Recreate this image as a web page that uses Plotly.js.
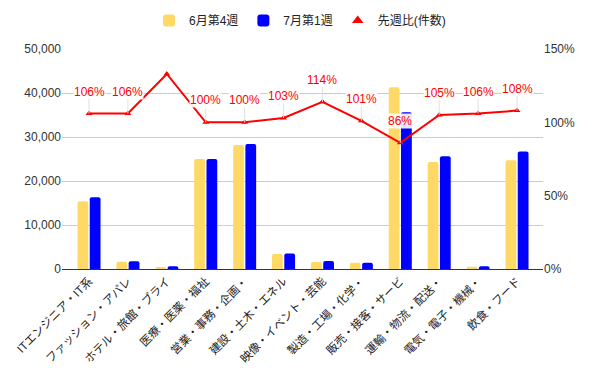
<!DOCTYPE html>
<html><head><meta charset="utf-8">
<script src="https://cdn.plot.ly/plotly-3.0.1.min.js"></script>
<style>html,body{margin:0;padding:0;background:#fff}#chart{width:600px;height:371px}</style>
</head><body><div id="chart"></div>
<script>
const categories = ["ITエンジニア・IT系","ファッション・アパレ","ホテル・旅館・ブライ","医療・医薬・福祉","営業・事務・企画・","建設・土木・エネル","映像・イベント・芸能","製造・工場・化学・","販売・接客・サービ","運輸・物流・配送・","電気・電子・機械・","飲食・フード"];
const juneW4 = [15400,1650,480,25000,28200,3400,1600,1400,41300,24300,520,24700];
const julyW1 = [16300,1750,640,25000,28400,3500,1820,1420,35600,25600,620,26700];
const ratioPct = [106,106,133,100,100,103,114,101,86,105,106,108];
const ratioLabels = ["106%","106%","","100%","100%","103%","114%","101%","86%","105%","106%","108%"];
const seriesNames = ["6月第4週","7月第1週","先週比(件数)"];
const leftTicks = [0,10000,20000,30000,40000,50000];
const rightTicks = [0,50,100,150];
const rightTickText = ["0%","50%","100%","150%"];

const font = "'Liberation Sans', Arial, 'Noto Sans CJK JP', sans-serif";
const traces = [
  {type:'bar', name:seriesNames[0], x:categories, y:juneW4, marker:{color:'#FFD966'}},
  {type:'bar', name:seriesNames[1], x:categories, y:julyW1, marker:{color:'#0000FF'}},
  {type:'scatter', mode:'lines+markers', name:seriesNames[2], x:categories, y:ratioPct, yaxis:'y2',
   line:{color:'#FF0000', width:2}, marker:{symbol:'triangle-up', size:6, color:'#FF0000'}, showlegend:false},
  {type:'scatter', mode:'markers', name:seriesNames[2], x:[null], y:[null], yaxis:'y2',
   marker:{symbol:'triangle-up', size:10, color:'#FF0000'}, showlegend:true}
];
const annotations = categories.map((c,i)=>ratioLabels[i]?({
  x:c, y:ratioPct[i], xref:'x', yref:'y2', text:ratioLabels[i], showarrow:true,
  arrowhead:0, arrowwidth:1, arrowcolor:'#e0e0e0', ax:0, ay:-22, standoff:0,
  bgcolor:'rgba(255,255,255,0.9)', borderpad:0,
  font:{family:font, size:12, color:'#FF0000'}
}):null).filter(a=>a);

const layout = {
  width:600, height:371,
  margin:{l:62, r:57, t:49, b:102, autoexpand:false},
  paper_bgcolor:'#fff', plot_bgcolor:'#fff',
  font:{family:font, size:12, color:'#222'},
  barmode:'group', bargap:0.37, bargroupgap:0.12, barcornerradius:2,
  showlegend:true,
  legend:{orientation:'h', x:0.5, xanchor:'center', xref:'container', y:0.945, yref:'container', yanchor:'middle',
    font:{family:font, size:12, color:'#222'}, itemclick:false},
  xaxis:{type:'category', range:[-0.694, 11.668], tickangle:-45, showgrid:false,
    showline:true, linecolor:'#333', linewidth:1, ticks:'', tickfont:{family:font, size:11.5, color:'#222'},
    automargin:false},
  yaxis:{range:[0,50000], tickvals:leftTicks, tickformat:',',
    showgrid:true, gridcolor:'#cccccc', zeroline:false, tickfont:{size:12, color:'#333'}, automargin:false, ticks:''},
  yaxis2:{overlaying:'y', side:'right', range:[0,150], tickvals:rightTicks, ticktext:rightTickText,
    showgrid:false, zeroline:false, tickfont:{size:12, color:'#333'}, automargin:false, ticks:''},
  annotations: annotations
};
Plotly.newPlot('chart', traces, layout, {displayModeBar:false, staticPlot:true});
</script></body></html>
